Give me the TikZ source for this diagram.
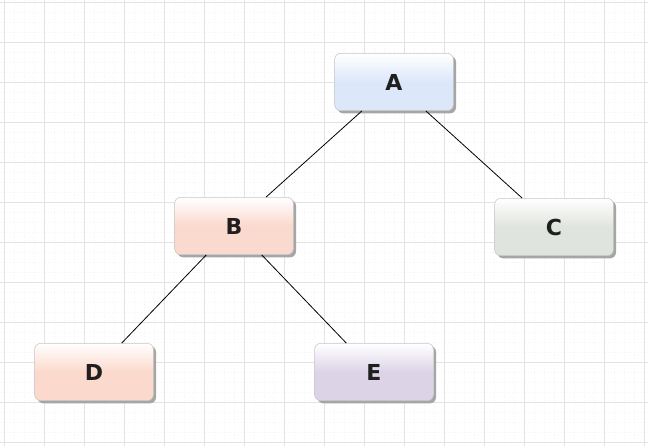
\documentclass[tikz,border=0pt]{standalone}
\usepackage{fontspec}
\setmainfont{DejaVu Sans}
\usetikzlibrary{shadows}

\definecolor{blueA}{HTML}{DCE7FA}
\definecolor{peachB}{HTML}{FAD9CE}
\definecolor{greyC}{HTML}{E0E4DE}
\definecolor{peachD}{HTML}{FBD9CC}
\definecolor{lilacE}{HTML}{DCD4E6}

\begin{document}
\begin{tikzpicture}[x=0.75pt, y=-0.75pt, box/.style={rectangle, rounded corners=4.5pt, draw=gray!45, line width=0.4pt, minimum width=89pt, minimum height=43pt, top color=white, bottom color=#1, middle color=#1, font=\bfseries\fontsize{16.5}{16.5}\selectfont, text=black!88, drop shadow={shadow xshift=2pt, shadow yshift=-2pt, fill=gray!70, opacity=1}}]
\useasboundingbox (0,0) rectangle (648,446);
\fill[white] (0,0) rectangle (648,446);
\foreach \x in {4,14,...,644} \draw[gray!9, dotted] (\x,0) -- (\x,446);
\foreach \y in {2,12,...,442} \draw[gray!9, dotted] (0,\y) -- (648,\y);
\foreach \x in {4,44,...,644} \draw[gray!22] (\x,0) -- (\x,446);
\foreach \y in {2,42,...,442} \draw[gray!22] (0,\y) -- (648,\y);
\node[box=blueA] (A) at (394,82) {A};
\node[box=peachB] (B) at (234,226) {B};
\node[box=greyC] (C) at (554,227) {C};
\node[box=peachD] (D) at (94,372) {D};
\node[box=lilacE] (E) at (374,372) {E};
\draw[black, line width=0.6pt] (A) -- (B);
\draw[black, line width=0.6pt] (A) -- (C);
\draw[black, line width=0.6pt] (B) -- (D);
\draw[black, line width=0.6pt] (B) -- (E);
\end{tikzpicture}
\end{document}
